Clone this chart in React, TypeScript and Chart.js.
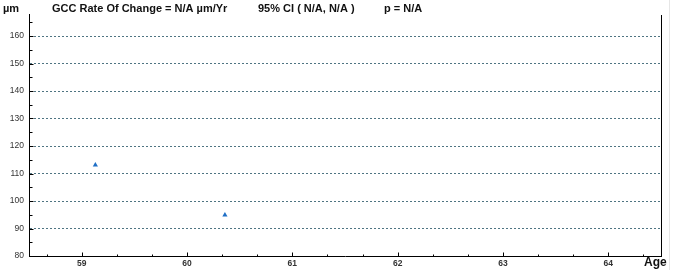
import React, { useEffect, useRef } from 'react';
import { Chart, registerables } from 'chart.js';

Chart.register(...registerables);

// Data
const ageValues = [59.13, 60.36];
const gccValues = [113.1, 94.9];

// Axis ticks
const xTickValues = [59, 60, 61, 62, 63, 64];
const yTickValues = [80, 90, 100, 110, 120, 130, 140, 150, 160];
const yMinorTickValues = [85, 95, 105, 115, 125, 135, 145, 155, 165];
const xMinorTickValues = [
  58.667, 59.333, 59.667, 60.333, 60.667, 61.333, 61.667, 62.333, 62.667,
  63.333, 63.667, 64.333,
];

// Header texts
const unitLabel = 'µm';
const rateLabel = 'GCC Rate Of Change = N/A µm/Yr';
const ciLabel = '95% CI ( N/A, N/A )';
const pLabel = 'p = N/A';
const xAxisLabel = 'Age';

const FONT = '"Liberation Sans", Arial, sans-serif';

const overlayPlugin = {
  id: 'overlay',
  afterDraw(chart: any) {
    const { ctx, chartArea, scales } = chart;
    const xs = scales.x;
    const ys = scales.y;
    ctx.save();
    // right border
    ctx.strokeStyle = '#000';
    ctx.lineWidth = 1;
    ctx.beginPath();
    ctx.moveTo(Math.round(chartArea.right) + 0.5, chartArea.top + 1);
    ctx.lineTo(Math.round(chartArea.right) + 0.5, chartArea.bottom);
    ctx.stroke();

    // inward ticks on y axis
    const lx = Math.round(chartArea.left) + 0.5;
    ctx.beginPath();
    yTickValues.forEach((v) => {
      const y = Math.round(ys.getPixelForValue(v)) + 0.5;
      ctx.moveTo(lx, y);
      ctx.lineTo(lx + 4, y);
    });
    yMinorTickValues.forEach((v) => {
      const y = Math.round(ys.getPixelForValue(v)) + 0.5;
      ctx.moveTo(lx, y);
      ctx.lineTo(lx + 3, y);
    });
    // inward ticks on x axis
    const by = Math.round(chartArea.bottom) + 0.5;
    xTickValues.forEach((v) => {
      const x = Math.round(xs.getPixelForValue(v)) + 0.5;
      ctx.moveTo(x, by);
      ctx.lineTo(x, by - 4);
    });
    xMinorTickValues.forEach((v) => {
      const x = Math.round(xs.getPixelForValue(v)) + 0.5;
      ctx.moveTo(x, by);
      ctx.lineTo(x, by - 2);
    });
    ctx.stroke();

    // faint page edge line
    ctx.strokeStyle = '#e6e6e6';
    ctx.beginPath();
    ctx.moveTo(669.5, 0);
    ctx.lineTo(669.5, 270);
    ctx.stroke();

    // header texts
    ctx.fillStyle = '#111';
    ctx.font = `bold 11px ${FONT}`;
    ctx.textBaseline = 'middle';
    ctx.textAlign = 'left';
    ctx.fillText(unitLabel, 3, 9);
    ctx.fillText(rateLabel, 52, 9);
    ctx.fillText(ciLabel, 258, 9);
    ctx.fillText(pLabel, 384, 9);
    ctx.font = `bold 12px ${FONT}`;
    ctx.fillText(xAxisLabel, 644, 263);
    ctx.restore();
  },
};

export default function App() {
  const canvasRef = useRef<HTMLCanvasElement | null>(null);

  useEffect(() => {
    if (!canvasRef.current) return;
    const chart = new Chart(canvasRef.current, {
      type: 'scatter',
      data: {
        datasets: [
          {
            data: ageValues.map((a, i) => ({ x: a, y: gccValues[i] })),
            pointStyle: 'triangle',
            pointRadius: 3,
            backgroundColor: '#1f6fc6',
            borderColor: '#1f6fc6',
            borderWidth: 0,
          },
        ],
      },
      options: {
        animation: false,
        responsive: false,
        maintainAspectRatio: false,
        layout: { padding: { top: 14, right: 14, left: 0, bottom: 0 } },
        plugins: {
          legend: { display: false },
          tooltip: { enabled: false },
          title: { display: false },
        },
        scales: {
          x: {
            type: 'linear',
            min: 58.5,
            max: 64.5,
            afterBuildTicks: (s: any) => {
              s.ticks = xTickValues.map((v) => ({ value: v }));
            },
            afterFit: (s: any) => {
              s.height = 14;
            },
            grid: { display: false, drawTicks: false },
            border: { display: true, color: '#000', width: 1 },
            ticks: {
              padding: 3,
              color: '#333',
              font: { family: FONT, size: 8.5, weight: 'bold' },
              maxRotation: 0,
            },
          },
          y: {
            type: 'linear',
            min: 80,
            max: 168,
            afterBuildTicks: (s: any) => {
              s.ticks = yTickValues.map((v) => ({ value: v }));
            },
            afterFit: (s: any) => {
              s.width = 29;
            },
            grid: {
              drawTicks: false,
              lineWidth: 1,
              color: (ctx: any) =>
                ctx.tick && ctx.tick.value > 80 ? '#4f7482' : 'rgba(0,0,0,0)',
            },
            border: { display: true, color: '#000', width: 1, dash: [2, 2] },
            ticks: {
              padding: 5,
              color: '#333',
              font: { family: FONT, size: 8.5 },
            },
          },
        },
      },
      plugins: [overlayPlugin],
    } as any);
    return () => chart.destroy();
  }, []);

  return (
    <div
      style={{
        position: 'fixed',
        left: 0,
        top: 0,
        width: 675,
        height: 270,
        background: '#fff',
      }}
    >
      <canvas ref={canvasRef} width={675} height={270} style={{ display: 'block' }} />
    </div>
  );
}
